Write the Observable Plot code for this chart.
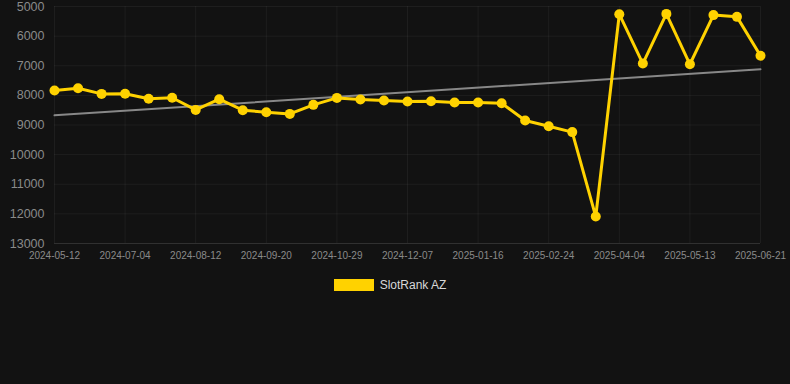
<!DOCTYPE html>
<html>
<head>
<meta charset="utf-8">
<script src="https://cdn.jsdelivr.net/npm/d3@7"></script>
<script src="https://cdn.jsdelivr.net/npm/@observablehq/plot@0.6"></script>
<style>
  html, body { margin: 0; padding: 0; background: #121212; }
  body { width: 790px; height: 384px; overflow: hidden; font-family: Arial, "Liberation Sans", sans-serif; }
  #legend { display: flex; align-items: center; justify-content: center; margin-top: 10px; padding-right: 10px; font-size: 12px; color: #d8d8d8; }
  #legend .sw { width: 40px; height: 12px; background: #ffd200; margin-right: 6px; }
</style>
</head>
<body>
<div id="chart"></div>
<div id="legend"><span class="sw"></span><span>SlotRank AZ</span></div>
<script>
const dates = [
  "2024-05-12", "2024-05-30", "2024-06-17", "2024-07-04", "2024-07-17", "2024-07-30",
  "2024-08-12", "2024-08-25", "2024-09-07", "2024-09-20", "2024-10-03", "2024-10-16",
  "2024-10-29", "2024-11-11", "2024-11-24", "2024-12-07", "2024-12-20", "2025-01-03",
  "2025-01-16", "2025-01-29", "2025-02-11", "2025-02-24", "2025-03-09", "2025-03-22",
  "2025-04-04", "2025-04-17", "2025-04-30", "2025-05-13", "2025-05-26", "2025-06-08",
  "2025-06-21"
];
const ranks = [
  7835, 7760, 7950, 7945, 8115, 8080, 8490, 8130, 8500, 8570,
  8625, 8320, 8085, 8140, 8170, 8205, 8200, 8240, 8240, 8265,
  8850, 9040, 9240, 12090, 5260, 6925, 5250, 6950, 5290, 5350,
  6665
];
const yTicks = [5000, 6000, 7000, 8000, 9000, 10000, 11000, 12000, 13000];
const seriesName = "SlotRank AZ";

const data = ranks.map((v, i) => ({i, date: dates[i], rank: v}));
const xTicks = d3.range(0, dates.length, 3);

const chart = Plot.plot({
  width: 790,
  height: 268,
  marginTop: 6,
  marginLeft: 54,
  marginRight: 30,
  marginBottom: 25,
  style: {background: "#121212", color: "#8a8a8a", fontFamily: "Arial, 'Liberation Sans', sans-serif"},
  x: {domain: [0, dates.length - 1], ticks: xTicks, tickFormat: i => dates[i], label: null, tickSize: 0, tickPadding: 8},
  y: {domain: [5000, 13000], reverse: true, ticks: yTicks, tickFormat: d3.format("d"), label: null, tickSize: 0, tickPadding: 10},
  marks: [
    Plot.gridX(xTicks, {stroke: "#ffffff", strokeOpacity: 0.05}),
    Plot.gridY(yTicks, {stroke: "#ffffff", strokeOpacity: 0.05}),
    Plot.ruleY([13000], {stroke: "#303030"}),
    Plot.axisY({ticks: yTicks, tickFormat: d3.format("d"), tickSize: 0, tickPadding: 10, fontSize: 12.5, fill: "#8a8a8a", label: null}),
    Plot.axisX({ticks: xTicks, tickFormat: i => dates[i], tickSize: 0, tickPadding: 8, fontSize: 10, fill: "#8a8a8a", label: null}),
    Plot.linearRegressionY(data, {x: "i", y: "rank", ci: 0, stroke: "#888888", strokeWidth: 2}),
    Plot.line(data, {x: "i", y: "rank", stroke: "#ffd200", strokeWidth: 3}),
    Plot.dot(data, {x: "i", y: "rank", r: 5, fill: "#ffd200", stroke: "none"})
  ]
});
document.getElementById("chart").appendChild(chart);
</script>
</body>
</html>
